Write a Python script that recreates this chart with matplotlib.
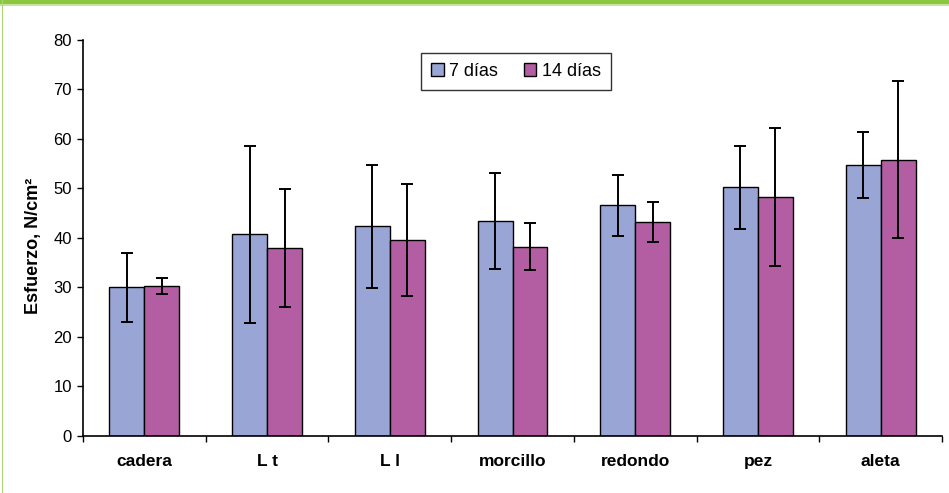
import matplotlib
matplotlib.use("Agg")
import matplotlib.pyplot as plt
import numpy as np
from matplotlib.patches import Rectangle

plt.rcParams['font.family'] = ['Liberation Sans', 'DejaVu Sans']

categories = ["cadera", "L t", "L l", "morcillo", "redondo", "pez", "aleta"]
dias7 = [30.0, 40.7, 42.3, 43.5, 46.6, 50.2, 54.7]
dias7_err = [7.0, 17.9, 12.5, 9.7, 6.2, 8.4, 6.7]
dias14 = [30.3, 37.9, 39.6, 38.2, 43.2, 48.3, 55.8]
dias14_err = [1.6, 11.9, 11.3, 4.8, 4.1, 13.9, 15.9]
series_labels = ["7 días", "14 días"]
yticks = [0, 10, 20, 30, 40, 50, 60, 70, 80]

blue = '#99A6D5'
magenta = '#B35EA2'

fig = plt.figure(figsize=(9.49, 4.93), dpi=100)
ax = fig.add_axes([0.0875, 0.1162, 0.9051, 0.8027])

x = np.arange(len(categories))
w = 0.285
err_kw = dict(ecolor='black', elinewidth=1.4, capsize=4.5, capthick=1.4)
ax.bar(x - w/2, dias7, w, yerr=dias7_err, color=blue, edgecolor='black',
       linewidth=1.0, label=series_labels[0], error_kw=err_kw)
ax.bar(x + w/2, dias14, w, yerr=dias14_err, color=magenta, edgecolor='black',
       linewidth=1.0, label=series_labels[1], error_kw=err_kw)

ax.set_xlim(-0.5, len(categories) - 0.5)
ax.set_ylim(0, 80)
ax.set_yticks(yticks)
ax.tick_params(axis='y', direction='out', length=4, width=1, labelsize=12, pad=4)
ax.set_xticks(x)
ax.set_xticklabels(categories, fontweight='bold', fontsize=12.5)
ax.tick_params(axis='x', which='major', length=0, pad=13)
ax.set_xticks(np.arange(-0.5, len(categories)), minor=True)
ax.tick_params(axis='x', which='minor', direction='out', length=4, width=1)

for s in ['top', 'right']:
    ax.spines[s].set_visible(False)
ax.spines['left'].set_linewidth(1.2)
ax.spines['bottom'].set_linewidth(1.2)

ax.set_ylabel("Esfuerzo, N/cm²", fontweight='bold', fontsize=13)
ax.yaxis.set_label_coords(-0.048, 0.48)

leg = ax.legend(loc='upper center', bbox_to_anchor=(0.504, 0.99), ncol=2,
                fontsize=13, frameon=True, fancybox=False, edgecolor='black',
                handlelength=0.7, handleheight=0.7, handletextpad=0.3,
                columnspacing=1.4, borderpad=0.55)
leg.get_frame().set_linewidth(1.0)

# green frame at top and left
fig.add_artist(Rectangle((0, 1 - 4/493), 1, 4/493, transform=fig.transFigure,
                         color='#8DC63F', lw=0))
fig.add_artist(Rectangle((0, 1 - 5.5/493), 1, 1.5/493, transform=fig.transFigure,
                         color='#C6E3A0', lw=0))
fig.add_artist(Rectangle((1.8/949, 0), 1.6/949, 1, transform=fig.transFigure,
                         color='#A9D66F', lw=0))

fig.savefig("out.png", dpi=100)
